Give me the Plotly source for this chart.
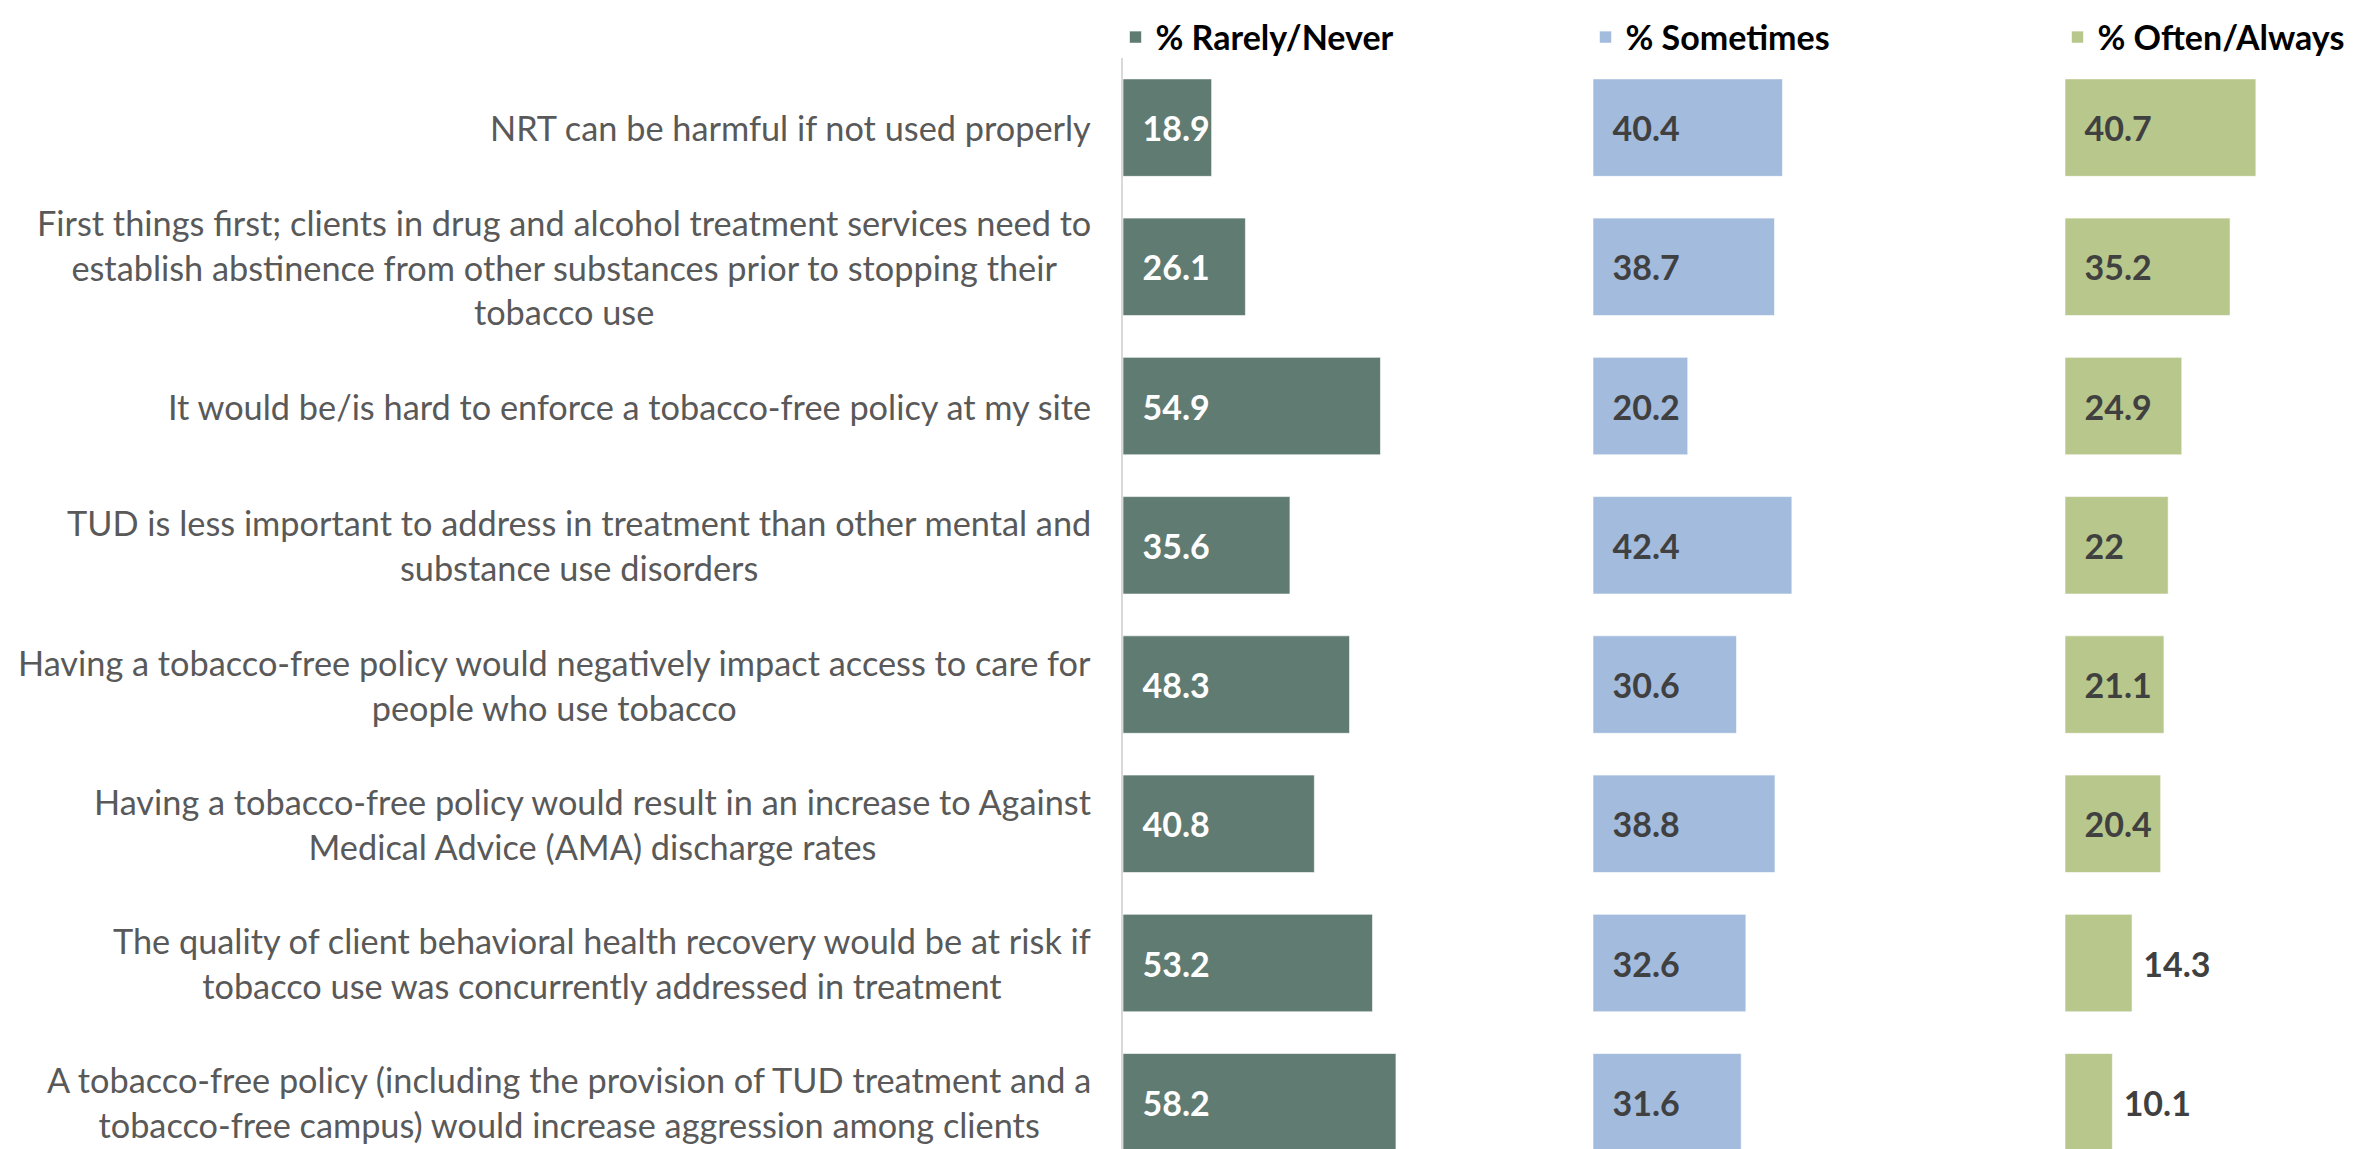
import plotly.graph_objects as go

categories = [
    "NRT can be harmful if not used properly",
    "First things first; clients in drug and alcohol treatment services need to<br>establish abstinence from other substances prior to stopping their<br>tobacco use",
    "It would be/is hard to enforce a tobacco-free policy at my site",
    "TUD is less important to address in treatment than other mental and<br>substance use disorders",
    "Having a tobacco-free policy would negatively impact access to care for<br>people who use tobacco",
    "Having a tobacco-free policy would result in an increase to Against<br>Medical Advice (AMA) discharge rates",
    "The quality of client behavioral health recovery would be at risk if<br>tobacco use was concurrently addressed in treatment",
    "A tobacco-free policy (including the provision of TUD treatment and a<br>tobacco-free campus) would increase aggression among clients",
]
rarely_never = [18.9, 26.1, 54.9, 35.6, 48.3, 40.8, 53.2, 58.2]
sometimes = [40.4, 38.7, 20.2, 42.4, 30.6, 38.8, 32.6, 31.6]
often_always = [40.7, 35.2, 24.9, 22, 21.1, 20.4, 14.3, 10.1]
series_names = ["% Rarely/Never", "% Sometimes", "% Often/Always"]

# page offset (body margin) compensation
OFF = 8
SW, SH = 2374, 1149
W, H = SW - OFF, SH - OFF
L = 1123 - OFF
TOP = 57.5 - OFF
PW = W - L
PH = H - TOP
px_per_unit = 4.69
s1, s2, s3 = 1123 - OFF, 1593 - OFF, 2065 - OFF
p2 = (s2 - L) / PW
p3 = (s3 - L) / PW
row_h = 139.3

colors = ["#607B72", "#A3BBDD", "#B8C78C"]
text_colors = ["white", "#404040", "#404040"]
FONT = "Lato"
NB = "\u00a0"

fig = go.Figure()
series = [rarely_never, sometimes, often_always]
axes = ["x", "x2", "x3"]
legends = ["legend", "legend2", "legend3"]
for i, (vals, name) in enumerate(zip(series, series_names)):
    if i == 2:
        pos = ["inside" if v >= 15 else "outside" for v in vals]
    else:
        pos = ["inside"] * len(vals)
    tmpl = [(NB * 2 if p == "inside" else NB) + "%{x}" for p in pos]
    tcol = [text_colors[i]] * len(vals)
    fig.add_trace(go.Bar(
        x=vals, y=categories, orientation="h", name=name,
        xaxis=axes[i], yaxis="y", legend=legends[i],
        marker=dict(color=colors[i], line=dict(color="rgba(255,255,255,0.6)", width=1)),
        texttemplate=tmpl, textposition=pos,
        insidetextanchor="start", textangle=0, constraintext="none",
        textfont=dict(family=FONT, size=34, color=tcol, weight="bold"),
        outsidetextfont=dict(family=FONT, size=34, color="#404040", weight="bold"),
        insidetextfont=dict(family=FONT, size=34, color=tcol, weight="bold"),
        cliponaxis=False,
        hoverinfo="skip",
    ))

for c in categories:
    fig.add_annotation(
        x=0, xref="paper", y=c, yref="y", xanchor="right", yanchor="middle",
        xshift=-30, text=c, showarrow=False, align="center",
        font=dict(family=FONT, size=34.3, color="#595959"),
    )

leg_y = 1 + TOP / PH
leg_common = dict(
    orientation="h", y=leg_y, yanchor="top", xanchor="left",
    font=dict(family=FONT, size=34, color="#000000", weight="bold"),
    itemclick=False, itemdoubleclick=False, bgcolor="rgba(0,0,0,0)",
)

fig.update_layout(
    width=W, height=H,
    margin=dict(l=L, r=0, t=TOP, b=0),
    paper_bgcolor="white", plot_bgcolor="white",
    barmode="group", bargap=0.3,
    showlegend=True,
    legend=dict(x=-0.006, **leg_common),
    legend2=dict(x=p2 - 0.006, **leg_common),
    legend3=dict(x=p3 - 0.006, **leg_common),
    xaxis=dict(domain=[0, p2], range=[0, (s2 - s1) / px_per_unit], visible=False, fixedrange=True),
    xaxis2=dict(domain=[p2, p3], range=[0, (s3 - s2) / px_per_unit], visible=False, anchor="y", fixedrange=True),
    xaxis3=dict(domain=[p3, 1], range=[0, (W - s3) / px_per_unit], visible=False, anchor="y", fixedrange=True),
    yaxis=dict(
        type="category", categoryorder="array", categoryarray=categories,
        range=[-0.5 + PH / row_h, -0.5],
        showticklabels=False, showgrid=False, zeroline=False,
        showline=True, linecolor="#D9D9D9", linewidth=2,
        anchor="x", fixedrange=True,
    ),
)

fig.write_html("out.html")
